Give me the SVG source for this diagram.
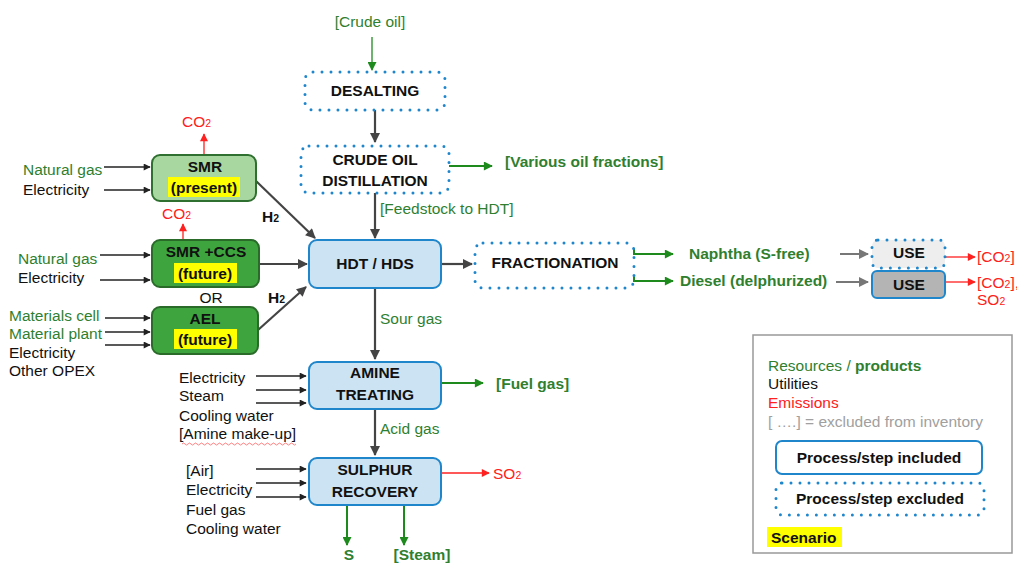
<svg xmlns="http://www.w3.org/2000/svg" width="1017" height="563" viewBox="0 0 1017 563">
<style>
text{font-family:"Liberation Sans",Arial,sans-serif;font-size:15.5px}
.b{font-weight:bold}
.g{fill:#2f7f2f}
.k{fill:#111}
.r{fill:#ff2020}
.gy{fill:#a0a0a0}
.c{text-anchor:middle}
.proc{fill:#cce3f4;stroke:#1f86cc;stroke-width:2}
.dot{fill:none;stroke:#1f86cc;stroke-width:3;stroke-dasharray:0 9;stroke-linecap:round}
.hl{fill:#ffff00}
.ag{stroke:#444;stroke-width:2.2;fill:none;marker-end:url(#mg)}
.ak{stroke:#222;stroke-width:1.5;fill:none;marker-end:url(#mk)}
.agr{stroke:#1e8a1e;stroke-width:2;fill:none;marker-end:url(#mgr)}
.agr1{stroke:#1e8a1e;stroke-width:1.3;fill:none;marker-end:url(#mgr)}
.ar{stroke:#ff2020;stroke-width:1.3;fill:none;marker-end:url(#mr)}
.agy{stroke:#777;stroke-width:2;fill:none;marker-end:url(#mgy)}
</style>
<defs>
<marker id="mg" viewBox="0 0 10 10" refX="9" refY="5" markerWidth="11" markerHeight="10" markerUnits="userSpaceOnUse" orient="auto"><path d="M0,0L10,5L0,10z" fill="#444"/></marker>
<marker id="mk" viewBox="0 0 10 10" refX="9" refY="5" markerWidth="8" markerHeight="7" markerUnits="userSpaceOnUse" orient="auto"><path d="M0,0L10,5L0,10z" fill="#222"/></marker>
<marker id="mgr" viewBox="0 0 10 10" refX="9" refY="5" markerWidth="11" markerHeight="9" markerUnits="userSpaceOnUse" orient="auto"><path d="M0,0L10,5L0,10z" fill="#1e8a1e"/></marker>
<marker id="mr" viewBox="0 0 10 10" refX="9" refY="5" markerWidth="9" markerHeight="8" markerUnits="userSpaceOnUse" orient="auto"><path d="M0,0L10,5L0,10z" fill="#ff2020"/></marker>
<marker id="mgy" viewBox="0 0 10 10" refX="9" refY="5" markerWidth="11" markerHeight="10" markerUnits="userSpaceOnUse" orient="auto"><path d="M0,0L10,5L0,10z" fill="#777"/></marker>
</defs>
<rect width="1017" height="563" fill="#fff"/>

<g id="connectors">
<path class="agr1" d="M372,37V70"/>
<path class="ag" d="M375,110V142"/>
<path class="agr" d="M449,166H492"/>
<path class="ag" d="M375,193V238"/>
<path class="ag" d="M441,264H472"/>
<path class="agr" d="M634,248V254H673"/>
<path class="agr" d="M634,276V281H673"/>
<path class="agy" d="M840,254H868"/>
<path class="agy" d="M836,282H868"/>
<path class="ar" d="M946,257H975"/>
<path class="ar" d="M946,282H975"/>
<path class="ak" d="M104,167H150"/>
<path class="ak" d="M104,190H150"/>
<path class="ar" d="M204,155V134"/>
<path class="ag" d="M256,181L315,238"/>
<path class="ar" d="M183,240V224"/>
<path class="ak" d="M100,255H150"/>
<path class="ak" d="M100,280H150"/>
<path class="ag" d="M259,264H307"/>
<path class="ak" d="M105,318H150"/>
<path class="ak" d="M105,332H150"/>
<path class="ak" d="M105,345H150"/>
<path class="ag" d="M258,330L306,287"/>
<path class="ag" d="M375,288V359"/>
<path class="agr" d="M441,383H483"/>
<path class="ak" d="M256,376H306"/>
<path class="ak" d="M256,390H306"/>
<path class="ak" d="M256,403H306"/>
<path class="ag" d="M375,409V455"/>
<path class="ar" d="M441,473H489"/>
<path class="ak" d="M256,469H306"/>
<path class="ak" d="M256,483H306"/>
<path class="ak" d="M256,497H306"/>
<path class="agr" d="M347,505V545"/>
<path class="agr" d="M404,505V545"/>
</g>

<g id="labels">
<text x="370" y="27" class="g c">[Crude oil]</text>
<text x="505" y="167" class="g b">[Various oil fractions]</text>
<text x="380" y="214" class="g">[Feedstock to HDT]</text>
<text x="380" y="324" class="g">Sour gas</text>
<text x="380" y="434" class="g">Acid gas</text>
<text x="496" y="389" class="g b">[Fuel gas]</text>
<text x="493" y="479" class="r">SO<tspan font-size="10.5">2</tspan></text>
<text x="349" y="560" class="g b c">S</text>
<text x="422" y="560" class="g b c">[Steam]</text>
<text x="689" y="259" class="g b">Naphtha (S-free)</text>
<text x="680" y="286" class="g b">Diesel (delphurized)</text>
<text x="977" y="262" class="r">[CO<tspan font-size="10.5">2</tspan>]</text>
<text x="977" y="288" class="r">[CO<tspan font-size="10.5">2</tspan>],</text>
<text x="977" y="305" class="r">SO<tspan font-size="10.5">2</tspan></text>
<text x="182" y="127" class="r">CO<tspan font-size="10.5">2</tspan></text>
<text x="162" y="219" class="r">CO<tspan font-size="10.5">2</tspan></text>
<text x="262" y="222" class="b k">H<tspan font-size="10.5">2</tspan></text>
<text x="268" y="303" class="b k">H<tspan font-size="10.5">2</tspan></text>
<text x="211" y="303" class="c k">OR</text>
<text x="23" y="175" class="g">Natural gas</text>
<text x="23" y="195" class="k">Electricity</text>
<text x="18" y="264" class="g">Natural gas</text>
<text x="18" y="283" class="k">Electricity</text>
<text x="9" y="321" class="g">Materials cell</text>
<text x="9" y="339" class="g">Material plant</text>
<text x="9" y="358" class="k">Electricity</text>
<text x="9" y="376" class="k">Other OPEX</text>
<text x="179" y="383" class="k">Electricity</text>
<text x="179" y="401" class="k">Steam</text>
<text x="179" y="421" class="k">Cooling water</text>
<text x="179" y="439" class="k">[Amine make-up]</text>
<path d="M182,444q1.5,-2 3,0t3,0t3,0t3,0t3,0t3,0t3,0t3,0t3,0t3,0t3,0t3,0t3,0t3,0t3,0t3,0t3,0t3,0t3,0t3,0t3,0t3,0t3,0t3,0t3,0t3,0t3,0t3,0t3,0t3,0t3,0t3,0t3,0t3,0t3,0t3,0t3,0t3,0" fill="none" stroke="#ff6060" stroke-width="0.8"/>
<text x="186" y="476" class="k">[Air]</text>
<text x="186" y="495" class="k">Electricity</text>
<text x="186" y="515" class="k">Fuel gas</text>
<text x="186" y="534" class="k">Cooling water</text>
</g>

<g id="desalting">
<rect x="305" y="72" width="140" height="38" rx="8" class="dot"/>
<text x="375" y="96" class="b c k">DESALTING</text>
</g>
<g id="distillation">
<rect x="301" y="146" width="148" height="47" rx="8" class="dot"/>
<text x="375" y="165" class="b c k">CRUDE OIL</text>
<text x="375" y="186" class="b c k">DISTILLATION</text>
</g>
<g id="hdt">
<rect x="309" y="240" width="132" height="48" rx="8" class="proc"/>
<text x="375" y="269" class="b c k">HDT / HDS</text>
</g>
<g id="fractionation">
<rect x="475" y="243" width="159" height="45" rx="8" class="dot"/>
<text x="555" y="268" class="b c k">FRACTIONATION</text>
</g>
<g id="use1">
<rect x="872" y="240" width="73" height="28" rx="6" fill="#eeeeee"/>
<rect x="872" y="240" width="73" height="28" rx="6" class="dot" stroke-dasharray="0 7"/>
<text x="909" y="258" class="b c k">USE</text>
</g>
<g id="use2">
<rect x="872" y="271" width="73" height="27" rx="5" fill="#b4b4b4" stroke="#1f86cc" stroke-width="2"/>
<text x="909" y="290" class="b c k">USE</text>
</g>
<g id="smr">
<rect x="152" y="155" width="104" height="46" rx="8" fill="#a8d8a0" stroke="#2f6f2f" stroke-width="2"/>
<text x="205" y="172" class="b c k">SMR</text>
<rect x="168" y="177" width="72" height="20" class="hl"/>
<text x="204" y="193" class="b c k">(present)</text>
</g>
<g id="smrccs">
<rect x="152" y="240" width="107" height="47" rx="8" fill="#3ea43e" stroke="#2a6b2a" stroke-width="2"/>
<text x="206" y="257" class="b c k">SMR +CCS</text>
<rect x="174" y="263" width="63" height="20" class="hl"/>
<text x="205" y="279" class="b c k">(future)</text>
</g>
<g id="ael">
<rect x="152" y="307" width="106" height="47" rx="8" fill="#3ea43e" stroke="#2a6b2a" stroke-width="2"/>
<text x="205" y="324" class="b c k">AEL</text>
<rect x="174" y="329" width="63" height="20" class="hl"/>
<text x="205" y="345" class="b c k">(future)</text>
</g>
<g id="amine">
<rect x="309" y="362" width="132" height="47" rx="8" class="proc"/>
<text x="375" y="378" class="b c k">AMINE</text>
<text x="375" y="400" class="b c k">TREATING</text>
</g>
<g id="sulphur">
<rect x="309" y="458" width="132" height="47" rx="8" class="proc"/>
<text x="375" y="475" class="b c k">SULPHUR</text>
<text x="375" y="497" class="b c k">RECOVERY</text>
</g>

<g id="legend">
<rect x="753" y="335" width="259" height="218" fill="#fff" stroke="#999" stroke-width="1.5"/>
<text x="768" y="371"><tspan class="g">Resources / </tspan><tspan class="g b">products</tspan></text>
<text x="768" y="389" class="k">Utilities</text>
<text x="768" y="408" class="r">Emissions</text>
<text x="768" y="427" class="gy">[ ….] = excluded from inventory</text>
<rect x="776" y="441" width="206" height="33" rx="6" fill="#fff" stroke="#1f86cc" stroke-width="2"/>
<text x="879" y="463" class="b c k">Process/step included</text>
<rect x="776" y="483" width="208" height="32" rx="6" class="dot" stroke-dasharray="0 8"/>
<text x="880" y="504" class="b c k">Process/step excluded</text>
<rect x="767" y="527" width="75" height="20" class="hl"/>
<text x="771" y="543" class="b k">Scenario</text>
</g>
</svg>
